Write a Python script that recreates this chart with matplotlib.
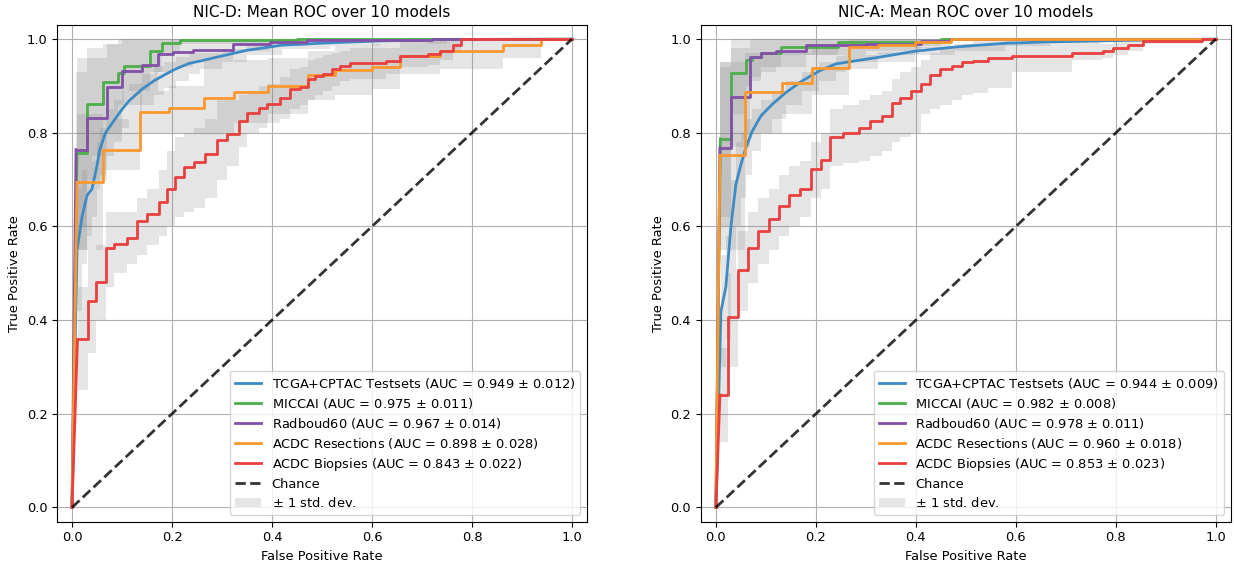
import matplotlib.pyplot as plt
from matplotlib.patches import Patch

# ---- NIC-D (left) ----
d_tcga_x = [0, 0.01, 0.02, 0.03, 0.04, 0.05, 0.055, 0.067, 0.084, 0.10, 0.114, 0.14, 0.164, 0.184, 0.207, 0.234, 0.256, 0.30, 0.35, 0.42, 0.515, 0.615, 0.75, 1.0]
d_tcga_y = [0, 0.55, 0.62, 0.666, 0.68, 0.73, 0.762, 0.80, 0.826, 0.85, 0.868, 0.893, 0.911, 0.923, 0.936, 0.948, 0.953, 0.964, 0.976, 0.987, 0.992, 0.996, 0.999, 1.0]
d_tcga_lo = [0, 0.42, 0.52, 0.58, 0.62, 0.68, 0.71, 0.75, 0.78, 0.81, 0.83, 0.86, 0.88, 0.895, 0.91, 0.925, 0.935, 0.95, 0.965, 0.978, 0.985, 0.99, 0.995, 1.0]
d_tcga_hi = [0, 0.68, 0.72, 0.75, 0.74, 0.78, 0.81, 0.85, 0.87, 0.89, 0.905, 0.926, 0.942, 0.951, 0.962, 0.971, 0.971, 0.978, 0.987, 0.996, 0.999, 1.0, 1.0, 1.0]

d_miccai_x = [0, 0.01, 0.03, 0.062, 0.091, 0.104, 0.155, 0.18, 0.216, 0.45, 1.0]
d_miccai_y = [0, 0.756, 0.862, 0.908, 0.928, 0.943, 0.974, 0.992, 0.997, 1.0, 1.0]
d_miccai_lo = [0, 0.55, 0.75, 0.83, 0.86, 0.89, 0.93, 0.97, 0.99, 1.0, 1.0]
d_miccai_hi = [0, 0.96, 0.98, 0.99, 1.0, 1.0, 1.0, 1.0, 1.0, 1.0, 1.0]

d_radb_x = [0, 0.008, 0.029, 0.069, 0.10, 0.14, 0.172, 0.202, 0.242, 0.322, 0.395, 0.469, 0.72, 1.0]
d_radb_y = [0, 0.764, 0.831, 0.898, 0.932, 0.944, 0.969, 0.972, 0.976, 0.989, 0.994, 0.998, 1.0, 1.0]
d_radb_lo = [0, 0.60, 0.70, 0.80, 0.86, 0.89, 0.93, 0.94, 0.95, 0.975, 0.985, 0.993, 1.0, 1.0]
d_radb_hi = [0, 0.93, 0.96, 0.99, 1.0, 1.0, 1.0, 1.0, 1.0, 1.0, 1.0, 1.0, 1.0, 1.0]

d_resec_x = [0, 0.01, 0.062, 0.135, 0.194, 0.263, 0.323, 0.392, 0.472, 0.525, 0.60, 0.655, 0.735, 0.861, 0.938, 1.0]
d_resec_y = [0, 0.694, 0.764, 0.845, 0.852, 0.875, 0.887, 0.90, 0.923, 0.933, 0.94, 0.964, 0.974, 0.987, 1.0, 1.0]
d_resec_lo = [0, 0.55, 0.72, 0.80, 0.80, 0.80, 0.82, 0.84, 0.87, 0.88, 0.893, 0.925, 0.935, 0.96, 1.0, 1.0]
d_resec_hi = [0, 0.84, 0.83, 0.89, 0.90, 0.95, 0.955, 0.96, 0.975, 0.985, 0.99, 1.0, 1.0, 1.0, 1.0, 1.0]

d_biop_x = [0, 0.011, 0.031, 0.047, 0.067, 0.083, 0.110, 0.130, 0.150, 0.173, 0.19, 0.206, 0.223, 0.243, 0.266, 0.29, 0.31, 0.333, 0.349, 0.373, 0.389, 0.416, 0.436, 0.456, 0.472, 0.486, 0.502, 0.519, 0.535, 0.555, 0.628, 0.655, 0.712, 0.735, 0.762, 0.778, 1.0]
d_biop_y = [0, 0.359, 0.44, 0.481, 0.553, 0.563, 0.576, 0.611, 0.626, 0.652, 0.68, 0.705, 0.726, 0.737, 0.754, 0.784, 0.798, 0.825, 0.843, 0.852, 0.862, 0.875, 0.893, 0.898, 0.914, 0.921, 0.926, 0.935, 0.942, 0.948, 0.953, 0.964, 0.969, 0.974, 0.988, 1.0, 1.0]
d_biop_lo = [0, 0.25, 0.33, 0.40, 0.47, 0.50, 0.52, 0.54, 0.56, 0.58, 0.60, 0.62, 0.63, 0.64, 0.66, 0.70, 0.73, 0.77, 0.80, 0.81, 0.82, 0.83, 0.85, 0.86, 0.87, 0.88, 0.89, 0.90, 0.91, 0.915, 0.925, 0.94, 0.945, 0.955, 0.975, 1.0, 1.0]
d_biop_hi = [0, 0.47, 0.55, 0.56, 0.63, 0.63, 0.63, 0.66, 0.68, 0.72, 0.76, 0.79, 0.80, 0.81, 0.83, 0.87, 0.87, 0.88, 0.89, 0.90, 0.905, 0.92, 0.935, 0.94, 0.955, 0.96, 0.965, 0.97, 0.975, 0.98, 0.98, 0.99, 0.993, 0.995, 1.0, 1.0, 1.0]

# ---- NIC-A (right) ----
a_tcga_x = [0, 0.01, 0.02, 0.03, 0.04, 0.05, 0.06, 0.073, 0.09, 0.113, 0.14, 0.173, 0.207, 0.24, 0.258, 0.325, 0.398, 0.478, 0.578, 0.668, 0.768, 0.854, 1.0]
a_tcga_y = [0, 0.418, 0.472, 0.60, 0.69, 0.732, 0.768, 0.804, 0.836, 0.861, 0.886, 0.911, 0.932, 0.947, 0.95, 0.961, 0.974, 0.983, 0.991, 0.994, 0.996, 0.998, 1.0]
a_tcga_lo = [0, 0.30, 0.36, 0.50, 0.60, 0.66, 0.71, 0.76, 0.80, 0.83, 0.86, 0.89, 0.91, 0.93, 0.935, 0.95, 0.965, 0.975, 0.985, 0.99, 0.993, 0.996, 1.0]
a_tcga_hi = [0, 0.54, 0.58, 0.70, 0.78, 0.80, 0.83, 0.85, 0.87, 0.89, 0.91, 0.93, 0.952, 0.964, 0.965, 0.972, 0.983, 0.99, 0.997, 0.998, 0.999, 1.0, 1.0]

a_miccai_x = [0, 0.009, 0.03, 0.061, 0.073, 0.09, 0.13, 0.244, 0.45, 1.0]
a_miccai_y = [0, 0.787, 0.928, 0.956, 0.961, 0.971, 0.984, 0.994, 1.0, 1.0]
a_miccai_lo = [0, 0.62, 0.84, 0.90, 0.92, 0.94, 0.965, 0.985, 1.0, 1.0]
a_miccai_hi = [0, 0.95, 1.0, 1.0, 1.0, 1.0, 1.0, 1.0, 1.0, 1.0]

a_radb_x = [0, 0.008, 0.03, 0.068, 0.09, 0.12, 0.18, 0.30, 0.41, 0.468, 1.0]
a_radb_y = [0, 0.768, 0.877, 0.961, 0.971, 0.975, 0.987, 0.99, 0.996, 1.0, 1.0]
a_radb_lo = [0, 0.60, 0.77, 0.91, 0.93, 0.94, 0.965, 0.975, 0.99, 1.0, 1.0]
a_radb_hi = [0, 0.94, 0.98, 1.0, 1.0, 1.0, 1.0, 1.0, 1.0, 1.0, 1.0]

a_resec_x = [0, 0.008, 0.059, 0.133, 0.193, 0.266, 0.325, 0.398, 0.471, 1.0]
a_resec_y = [0, 0.752, 0.887, 0.907, 0.939, 0.982, 0.987, 0.994, 1.0, 1.0]
a_resec_lo = [0, 0.55, 0.80, 0.84, 0.88, 0.95, 0.965, 0.98, 1.0, 1.0]
a_resec_hi = [0, 0.95, 0.97, 0.97, 0.99, 1.0, 1.0, 1.0, 1.0, 1.0]

a_biop_x = [0, 0.008, 0.025, 0.045, 0.064, 0.084, 0.107, 0.127, 0.147, 0.168, 0.19, 0.21, 0.228, 0.255, 0.287, 0.308, 0.332, 0.352, 0.368, 0.39, 0.41, 0.428, 0.448, 0.472, 0.492, 0.515, 0.545, 0.592, 0.713, 0.775, 0.795, 0.825, 0.855, 0.972, 1.0]
a_biop_y = [0, 0.24, 0.407, 0.507, 0.554, 0.59, 0.616, 0.643, 0.666, 0.68, 0.722, 0.742, 0.79, 0.80, 0.811, 0.825, 0.836, 0.864, 0.875, 0.889, 0.905, 0.923, 0.935, 0.943, 0.95, 0.954, 0.959, 0.963, 0.971, 0.975, 0.981, 0.988, 0.996, 1.0, 1.0]
a_biop_lo = [0, 0.14, 0.30, 0.42, 0.48, 0.52, 0.55, 0.58, 0.60, 0.62, 0.66, 0.68, 0.73, 0.735, 0.74, 0.75, 0.76, 0.78, 0.79, 0.80, 0.84, 0.85, 0.86, 0.87, 0.88, 0.885, 0.895, 0.93, 0.955, 0.96, 0.965, 0.975, 0.99, 1.0, 1.0]
a_biop_hi = [0, 0.34, 0.50, 0.59, 0.63, 0.66, 0.68, 0.71, 0.73, 0.74, 0.78, 0.80, 0.85, 0.86, 0.87, 0.88, 0.89, 0.915, 0.93, 0.94, 0.955, 0.97, 0.98, 0.985, 0.99, 0.995, 0.995, 0.99, 0.99, 0.99, 0.997, 1.0, 1.0, 1.0, 1.0]

titles = ['NIC-D: Mean ROC over 10 models', 'NIC-A: Mean ROC over 10 models']
names = ['TCGA+CPTAC Testsets', 'MICCAI', 'Radboud60', 'ACDC Resections', 'ACDC Biopsies']
colors = ['#3d8bc4', '#4caf4a', '#8350a8', '#fb982d', '#e8403f']
auc_d = [(0.949, 0.012), (0.975, 0.011), (0.967, 0.014), (0.898, 0.028), (0.843, 0.022)]
auc_a = [(0.944, 0.009), (0.982, 0.008), (0.978, 0.011), (0.960, 0.018), (0.853, 0.023)]

panels = [
    [(d_tcga_x, d_tcga_y, d_tcga_lo, d_tcga_hi), (d_miccai_x, d_miccai_y, d_miccai_lo, d_miccai_hi),
     (d_radb_x, d_radb_y, d_radb_lo, d_radb_hi), (d_resec_x, d_resec_y, d_resec_lo, d_resec_hi),
     (d_biop_x, d_biop_y, d_biop_lo, d_biop_hi)],
    [(a_tcga_x, a_tcga_y, a_tcga_lo, a_tcga_hi), (a_miccai_x, a_miccai_y, a_miccai_lo, a_miccai_hi),
     (a_radb_x, a_radb_y, a_radb_lo, a_radb_hi), (a_resec_x, a_resec_y, a_resec_lo, a_resec_hi),
     (a_biop_x, a_biop_y, a_biop_lo, a_biop_hi)],
]

plt.rcParams['font.size'] = 9.4
fig = plt.figure(figsize=(12.34, 5.63), dpi=100)
ax_pos = [[0.0462, 0.0737, 0.4295, 0.8819], [0.568, 0.0737, 0.4295, 0.8819]]

for p in range(2):
    ax = fig.add_axes(ax_pos[p])
    aucs = auc_d if p == 0 else auc_a
    handles = []
    for x, y, lo, hi in panels[p]:
        ax.fill_between(x, lo, hi, step='post', color='grey', alpha=0.2, lw=0)
    for i, (x, y, lo, hi) in enumerate(panels[p]):
        lbl = '%s (AUC = %0.3f $\\pm$ %0.3f)' % (names[i], aucs[i][0], aucs[i][1])
        if i == 0:
            ln, = ax.plot(x, y, color=colors[i], lw=2, label=lbl)
        else:
            # first rise from the origin is a straight segment, the rest are steps
            ax.plot(x[:2], y[:2], color=colors[i], lw=2)
            ln, = ax.plot(x[1:], y[1:], color=colors[i], lw=2, drawstyle='steps-post', label=lbl)
        handles.append(ln)
    ch, = ax.plot([0, 1], [0, 1], linestyle='--', lw=2, color='k', alpha=0.8, label='Chance')
    handles.append(ch)
    handles.append(Patch(facecolor='grey', alpha=0.2, label=r'$\pm$ 1 std. dev.'))
    ax.set_xlim(-0.03, 1.03)
    ax.set_ylim(-0.03, 1.03)
    ax.set_xticks([0, 0.2, 0.4, 0.6, 0.8, 1.0])
    ax.set_yticks([0, 0.2, 0.4, 0.6, 0.8, 1.0])
    ax.grid(True, color='#b0b0b0', lw=0.8)
    ax.set_axisbelow(True)
    ax.set_xlabel('False Positive Rate')
    ax.set_ylabel('True Positive Rate')
    ax.set_title(titles[p], fontsize=11)
    ax.legend(handles=handles, loc='lower right', labelspacing=0.38)

plt.savefig('out.png', dpi=100)
